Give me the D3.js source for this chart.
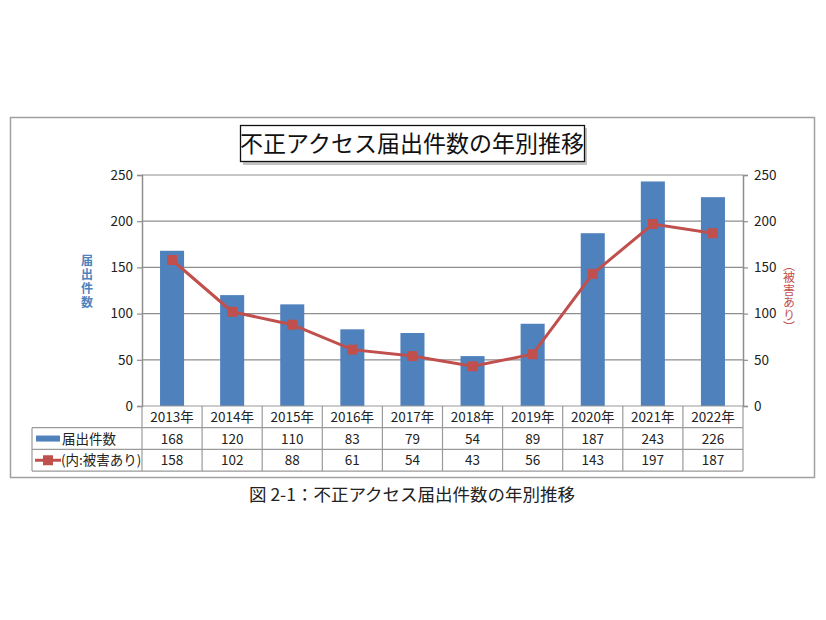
<!DOCTYPE html>
<html lang="ja">
<head>
<meta charset="UTF-8">
<title>不正アクセス届出件数の年別推移</title>
<script src="https://cdn.jsdelivr.net/npm/d3@7"></script>
<style>
    body { margin: 0; background: #fff; }
    svg text { font-family: "Noto Sans CJK JP", "Noto Sans", sans-serif; }
    .tick text { font-size: 13.5px; fill: #222; }
    .cell { font-size: 13.5px; fill: #222; }
    .vtitle { writing-mode: vertical-rl; text-orientation: upright; }
</style>
</head>
<body>
<div id="chart"></div>
<script>
    const years = ["2013年", "2014年", "2015年", "2016年", "2017年", "2018年", "2019年", "2020年", "2021年", "2022年"];
    const reports = [168, 120, 110, 83, 79, 54, 89, 187, 243, 226];
    const damaged = [158, 102, 88, 61, 54, 43, 56, 143, 197, 187];
    const yTicks = [0, 50, 100, 150, 200, 250];

    const seriesNames = ["届出件数", "(内:被害あり)"];
    const BLUE = "#4f81bd";
    const RED = "#c0504d";
    const GRID = "#8e8e8e";

    const width = 826, height = 620;
    const PLOT_LEFT = 142, PLOT_RIGHT = 743;
    const PLOT_TOP = 175, PLOT_BOTTOM = 406;
    const ROW_H = 21.7;
    const TABLE_LEFT = 32;

    const svg = d3.select("#chart").append("svg")
        .attr("width", width)
        .attr("height", height);

    // outer frame
    svg.append("rect")
        .attr("x", 10.5).attr("y", 117.5)
        .attr("width", 804).attr("height", 360)
        .attr("fill", "#fff")
        .attr("stroke", "#a0a0a0").attr("stroke-width", 1.5);

    const x = d3.scaleBand()
        .domain(years)
        .range([PLOT_LEFT, PLOT_RIGHT])
        .paddingInner(0.6)
        .paddingOuter(0.3);

    const cols = d3.scaleBand()
        .domain(years)
        .range([PLOT_LEFT, PLOT_RIGHT]);

    const y = d3.scaleLinear()
        .domain([0, 250])
        .range([PLOT_BOTTOM, PLOT_TOP]);

    // gridlines
    svg.append("g")
        .selectAll("line")
        .data(yTicks.slice(1))
        .join("line")
        .attr("x1", PLOT_LEFT).attr("x2", PLOT_RIGHT)
        .attr("y1", d => y(d)).attr("y2", d => y(d))
        .attr("stroke", GRID).attr("stroke-width", 1.2);

    // axes
    const leftAxis = svg.append("g")
        .attr("transform", "translate(" + PLOT_LEFT + ",0)")
        .call(d3.axisLeft(y).tickValues(yTicks).tickSize(5).tickPadding(4));
    const rightAxis = svg.append("g")
        .attr("transform", "translate(" + PLOT_RIGHT + ",0)")
        .call(d3.axisRight(y).tickValues(yTicks).tickSize(5).tickPadding(6));
    [leftAxis, rightAxis].forEach(function (a) {
        a.select(".domain").attr("stroke", GRID).attr("stroke-width", 1.5);
        a.selectAll(".tick line").attr("stroke", GRID).attr("stroke-width", 1.2);
    });

    // bars
    svg.append("g")
        .selectAll("rect")
        .data(reports)
        .join("rect")
        .attr("x", (d, i) => x(years[i]))
        .attr("width", x.bandwidth())
        .attr("y", d => y(d))
        .attr("height", d => y(0) - y(d))
        .attr("fill", BLUE);

    // line
    const line = d3.line()
        .x((d, i) => cols(years[i]) + cols.bandwidth() / 2)
        .y(d => y(d));

    svg.append("path")
        .datum(damaged)
        .attr("d", line)
        .attr("fill", "none")
        .attr("stroke", RED)
        .attr("stroke-width", 3);

    svg.append("g")
        .selectAll("rect")
        .data(damaged)
        .join("rect")
        .attr("x", (d, i) => cols(years[i]) + cols.bandwidth() / 2 - 5)
        .attr("y", d => y(d) - 5)
        .attr("width", 10).attr("height", 10)
        .attr("fill", RED);

    // data table
    const table = svg.append("g");
    const rowsTop = PLOT_BOTTOM;

    table.append("line")
        .attr("x1", PLOT_LEFT).attr("x2", PLOT_RIGHT)
        .attr("y1", rowsTop).attr("y2", rowsTop);
    [1, 2, 3].forEach(function (r) {
        table.append("line")
            .attr("x1", TABLE_LEFT).attr("x2", PLOT_RIGHT)
            .attr("y1", rowsTop + r * ROW_H).attr("y2", rowsTop + r * ROW_H);
    });
    years.forEach(function (yr) {
        table.append("line")
            .attr("x1", cols(yr) + cols.bandwidth()).attr("x2", cols(yr) + cols.bandwidth())
            .attr("y1", rowsTop).attr("y2", rowsTop + 3 * ROW_H);
    });
    table.append("line")
        .attr("x1", PLOT_LEFT).attr("x2", PLOT_LEFT)
        .attr("y1", rowsTop).attr("y2", rowsTop + 3 * ROW_H);
    table.append("line")
        .attr("x1", TABLE_LEFT).attr("x2", TABLE_LEFT)
        .attr("y1", rowsTop + ROW_H).attr("y2", rowsTop + 3 * ROW_H);
    table.selectAll("line").attr("stroke", "#9a9a9a").attr("stroke-width", 1.2);

    const rows = [years, reports, damaged];
    rows.forEach(function (vals, r) {
        table.append("g")
            .selectAll("text")
            .data(vals)
            .join("text")
            .attr("class", "cell")
            .attr("x", (d, i) => cols(years[i]) + cols.bandwidth() / 2)
            .attr("y", rowsTop + r * ROW_H + ROW_H / 2 + 5)
            .attr("text-anchor", "middle")
            .text(d => d);
    });

    // legend keys in table
    const key1 = rowsTop + 1.5 * ROW_H;
    table.append("rect")
        .attr("x", 36).attr("y", key1 - 3)
        .attr("width", 24).attr("height", 6)
        .attr("fill", BLUE);
    table.append("text").attr("class", "cell")
        .attr("x", 62).attr("y", key1 + 5)
        .text(seriesNames[0]);

    const key2 = rowsTop + 2.5 * ROW_H;
    table.append("line")
        .attr("x1", 35).attr("x2", 61)
        .attr("y1", key2).attr("y2", key2)
        .attr("stroke", RED).attr("stroke-width", 3);
    table.append("rect")
        .attr("x", 43).attr("y", key2 - 5)
        .attr("width", 10).attr("height", 10)
        .attr("fill", RED);
    table.append("text").attr("class", "cell")
        .attr("x", 61).attr("y", key2 + 5)
        .text(seriesNames[1]);

    // axis titles (vertical)
    svg.append("text")
        .attr("class", "vtitle")
        .attr("x", 87).attr("y", 254)
        .attr("font-size", 12)
        .attr("font-weight", "bold")
        .attr("letter-spacing", 2)
        .attr("fill", BLUE)
        .text("届出件数");

    svg.append("text")
        .attr("class", "vtitle")
        .attr("x", 789).attr("y", 259)
        .attr("font-size", 12)
        .attr("letter-spacing", 0.5)
        .attr("fill", RED)
        .text("（被害あり）");

    // chart title box
    svg.append("rect")
        .attr("x", 243).attr("y", 128)
        .attr("width", 344).attr("height", 37)
        .attr("fill", "#9a9a9a")
        .attr("opacity", 0.6);
    svg.append("rect")
        .attr("x", 240.5).attr("y", 125.5)
        .attr("width", 344).attr("height", 36)
        .attr("fill", "#fff")
        .attr("stroke", "#111").attr("stroke-width", 1.3);
    svg.append("text")
        .attr("x", 412).attr("y", 152)
        .attr("text-anchor", "middle")
        .attr("font-size", 23)
        .attr("fill", "#111")
        .text("不正アクセス届出件数の年別推移");

    // caption
    svg.append("text")
        .attr("x", 412).attr("y", 501)
        .attr("text-anchor", "middle")
        .attr("font-size", 17.5)
        .attr("fill", "#222")
        .text("図 2-1：不正アクセス届出件数の年別推移");
</script>
</body>
</html>
